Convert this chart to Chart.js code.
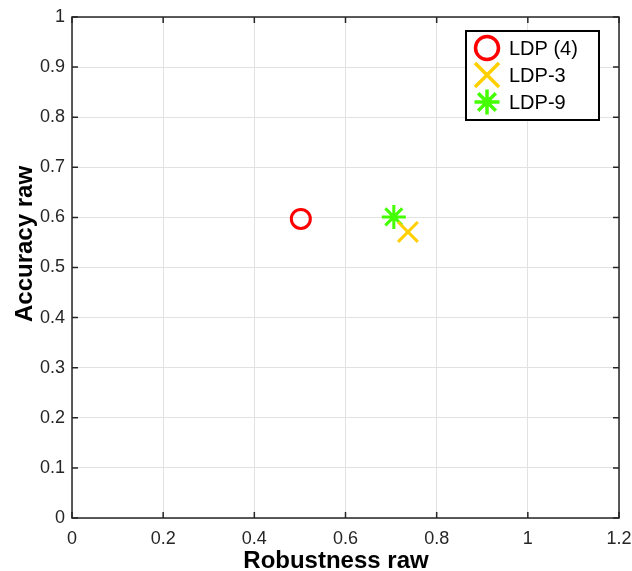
<!DOCTYPE html>
<html>
<head>
<meta charset="utf-8">
<script src="https://cdn.jsdelivr.net/npm/chart.js@4"></script>
<style>
  html, body { margin: 0; padding: 0; background: #fff; }
  #wrap { width: 632px; height: 571px; }
</style>
</head>
<body>
<div id="wrap"><canvas id="chart" width="632" height="571"></canvas></div>
<script>
const seriesNames = ["LDP (4)", "LDP-3", "LDP-9"];
const robustness = [0.502, 0.737, 0.706];
const accuracy = [0.597, 0.571, 0.601];
const xTicks = [0, 0.2, 0.4, 0.6, 0.8, 1, 1.2];
const yTicks = [0, 0.1, 0.2, 0.3, 0.4, 0.5, 0.6, 0.7, 0.8, 0.9, 1];
const xTitle = "Robustness raw";
const yTitle = "Accuracy raw";

const colors = ["#ff0000", "#ffd000", "#44ff00"];
const styles = ["circle", "crossRot", "star"];
const radii = [9.5, 14, 12];
const legendRadii = [11.5, 17, 12.5];

const FONT = "'Liberation Sans', Arial, sans-serif";

// box around the axes, inward tick marks, axis titles, legend in the top right corner
const matlabAxes = {
  id: "matlabAxes",
  afterDraw(chart) {
    const ctx = chart.ctx;
    const a = chart.chartArea;
    const xs = chart.scales.x, ys = chart.scales.y;
    ctx.save();
    ctx.strokeStyle = "#262626";
    ctx.lineWidth = 1.5;
    ctx.strokeRect(a.left, a.top, a.right - a.left, a.bottom - a.top);
    ctx.beginPath();
    xTicks.forEach(v => {
      const px = xs.getPixelForValue(v);
      ctx.moveTo(px, a.bottom); ctx.lineTo(px, a.bottom - 6);
      ctx.moveTo(px, a.top); ctx.lineTo(px, a.top + 6);
    });
    yTicks.forEach(v => {
      const py = ys.getPixelForValue(v);
      ctx.moveTo(a.left, py); ctx.lineTo(a.left + 6, py);
      ctx.moveTo(a.right, py); ctx.lineTo(a.right - 6, py);
    });
    ctx.stroke();

    // axis titles
    ctx.fillStyle = "#000";
    ctx.font = "bold 24px " + FONT;
    ctx.textAlign = "center";
    ctx.textBaseline = "alphabetic";
    ctx.fillText(xTitle, 336, 568);
    ctx.save();
    ctx.translate(32, 244);
    ctx.rotate(-Math.PI / 2);
    ctx.fillText(yTitle, 0, 0);
    ctx.restore();

    // legend
    const lx = 466, ly = 31, lw = 133, lh = 89;
    ctx.fillStyle = "#fff";
    ctx.fillRect(lx, ly, lw, lh);
    ctx.strokeStyle = "#000";
    ctx.lineWidth = 2;
    ctx.strokeRect(lx, ly, lw, lh);
    ctx.font = "20px " + FONT;
    ctx.textBaseline = "middle";
    ctx.textAlign = "left";
    seriesNames.forEach((name, i) => {
      const cy = ly + 17 + i * 27;
      ctx.strokeStyle = colors[i];
      ctx.fillStyle = "rgba(0,0,0,0)";
      ctx.lineWidth = 3.5;
      Chart.helpers.drawPoint(ctx, { pointStyle: styles[i], radius: legendRadii[i], borderWidth: 3.5 }, lx + 21, cy);
      ctx.fillStyle = "#000";
      ctx.fillText(name, lx + 43, cy + 1);
    });
    ctx.restore();
  }
};

new Chart(document.getElementById("chart"), {
  type: "scatter",
  data: {
    datasets: seriesNames.map((name, i) => ({
      label: name,
      data: [{ x: robustness[i], y: accuracy[i] }],
      pointStyle: styles[i],
      pointRadius: radii[i],
      pointBorderWidth: 3,
      borderColor: colors[i],
      backgroundColor: "rgba(0,0,0,0)"
    }))
  },
  options: {
    responsive: false,
    animation: false,
    layout: { autoPadding: false, padding: { top: 17, right: 13, left: 0, bottom: 0 } },
    plugins: { legend: { display: false }, tooltip: { enabled: false } },
    scales: {
      x: {
        type: "linear",
        min: 0, max: 1.2,
        afterBuildTicks: s => { s.ticks = xTicks.map(v => ({ value: v })); },
        afterFit: s => { s.height = 53; s.paddingRight = 0; s.paddingLeft = 0; },
        grid: { color: "#e2e2e2", drawTicks: false },
        border: { display: false },
        ticks: { color: "#262626", padding: 10, font: { family: FONT, size: 18 }, callback: v => String(v) }
      },
      y: {
        type: "linear",
        min: 0, max: 1,
        afterBuildTicks: s => { s.ticks = yTicks.map(v => ({ value: v })); },
        afterFit: s => { s.width = 72; s.paddingTop = 0; s.paddingBottom = 0; },
        grid: { color: "#e2e2e2", drawTicks: false },
        border: { display: false },
        ticks: { color: "#262626", padding: 7, font: { family: FONT, size: 18 }, callback: v => String(v) }
      }
    }
  },
  plugins: [matlabAxes]
});
</script>
</body>
</html>
